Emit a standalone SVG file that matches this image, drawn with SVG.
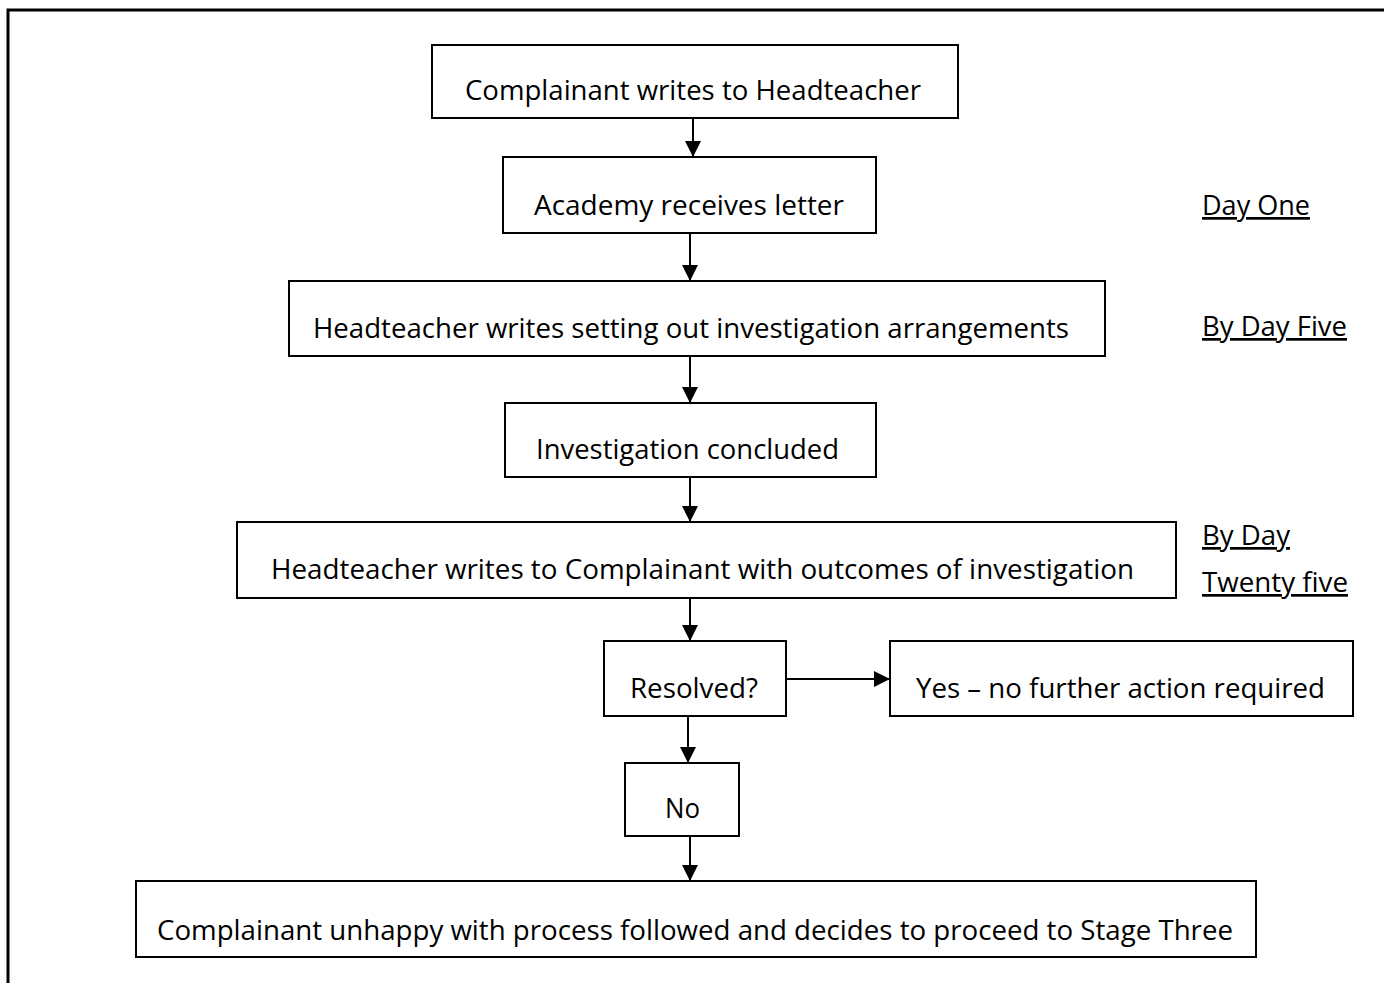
<svg xmlns="http://www.w3.org/2000/svg" width="1384" height="985" viewBox="0 0 1384 985">
<style>
.box{fill:#fff;stroke:#000;stroke-width:2}
.t{font-family:"Open Sans","Liberation Sans",sans-serif;font-size:27px;fill:#000}
.lbl{font-family:"Open Sans","Liberation Sans",sans-serif;font-size:27px;fill:#000;text-decoration:underline}
.c{stroke:#000;stroke-width:2;fill:none;marker-end:url(#ah)}
.frame{stroke:#000;stroke-width:3;fill:none}
</style>
<defs>
<marker id="ah" markerWidth="8" markerHeight="8" refX="8" refY="4" orient="auto" markerUnits="strokeWidth">
<path d="M0,0 L8,4 L0,8 Z" fill="#000"/>
</marker>
</defs>
<rect width="1384" height="985" fill="#fff"/>
<path class="frame" d="M8,983 V10 H1384"/>
<g id="connectors">
<line class="c" x1="693" y1="118" x2="693" y2="157"/>
<line class="c" x1="690" y1="233" x2="690" y2="281"/>
<line class="c" x1="690" y1="356" x2="690" y2="403"/>
<line class="c" x1="690" y1="477" x2="690" y2="522"/>
<line class="c" x1="690" y1="598" x2="690" y2="641"/>
<line class="c" x1="784" y1="679" x2="890" y2="679"/>
<line class="c" x1="688" y1="716" x2="688" y2="763"/>
<line class="c" x1="690" y1="836" x2="690" y2="881"/>
</g>
<g id="n1"><rect class="box" x="432" y="45" width="526" height="73"/><text class="t" x="465" y="100" textLength="456" lengthAdjust="spacingAndGlyphs">Complainant writes to Headteacher</text></g>
<g id="n2"><rect class="box" x="503" y="157" width="373" height="76"/><text class="t" x="534" y="215" textLength="310" lengthAdjust="spacingAndGlyphs">Academy receives letter</text></g>
<g id="n3"><rect class="box" x="289" y="281" width="816" height="75"/><text class="t" x="313" y="338" textLength="756" lengthAdjust="spacingAndGlyphs">Headteacher writes setting out investigation arrangements</text></g>
<g id="n4"><rect class="box" x="505" y="403" width="371" height="74"/><text class="t" x="536" y="459" textLength="303" lengthAdjust="spacingAndGlyphs">Investigation concluded</text></g>
<g id="n5"><rect class="box" x="237" y="522" width="939" height="76"/><text class="t" x="271" y="579" textLength="863" lengthAdjust="spacingAndGlyphs">Headteacher writes to Complainant with outcomes of investigation</text></g>
<g id="n6"><rect class="box" x="604" y="641" width="182" height="75"/><text class="t" x="630" y="698" textLength="128" lengthAdjust="spacingAndGlyphs">Resolved?</text></g>
<g id="n7"><rect class="box" x="890" y="641" width="463" height="75"/><text class="t" x="916" y="698" textLength="409" lengthAdjust="spacingAndGlyphs">Yes – no further action required</text></g>
<g id="n8"><rect class="box" x="625" y="763" width="114" height="73"/><text class="t" x="665" y="818" textLength="35" lengthAdjust="spacingAndGlyphs">No</text></g>
<g id="n9"><rect class="box" x="136" y="881" width="1120" height="76"/><text class="t" x="157" y="940" textLength="1076" lengthAdjust="spacingAndGlyphs">Complainant unhappy with process followed and decides to proceed to Stage Three</text></g>
<g id="labels">
<text class="lbl" x="1202" y="215" textLength="108" lengthAdjust="spacingAndGlyphs">Day One</text>
<text class="lbl" x="1202" y="336" textLength="145" lengthAdjust="spacingAndGlyphs">By Day Five</text>
<text class="lbl" x="1202" y="545" textLength="88" lengthAdjust="spacingAndGlyphs">By Day</text>
<text class="lbl" x="1202" y="592" textLength="146" lengthAdjust="spacingAndGlyphs">Twenty five</text>
</g>
</svg>
